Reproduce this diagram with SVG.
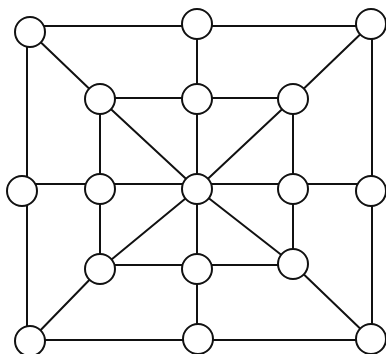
<svg xmlns="http://www.w3.org/2000/svg" width="386" height="354" viewBox="0 0 386 354">
<style>
.e{stroke:#111;stroke-width:2;fill:none;stroke-linecap:round}
.n{fill:#fff;stroke:#111;stroke-width:2}
</style>
<rect width="386" height="354" fill="#fff"/>
<g id="connectors" class="e">
<line x1="30" y1="26" x2="371" y2="26"/>
<line x1="27" y1="32" x2="27" y2="341"/>
<line x1="372" y1="24" x2="372" y2="339"/>
<line x1="22" y1="184" x2="371" y2="184"/>
<line x1="30" y1="340" x2="371" y2="340"/>
<line x1="100" y1="98" x2="293" y2="98"/>
<line x1="100" y1="265" x2="293" y2="265"/>
<line x1="100" y1="99" x2="100" y2="269"/>
<line x1="197" y1="24" x2="197" y2="339"/>
<line x1="293" y1="99" x2="293" y2="264"/>
<line x1="30" y1="32" x2="100" y2="99"/>
<line x1="100" y1="99" x2="197" y2="189"/>
<line x1="371" y1="24" x2="293" y2="99"/>
<line x1="293" y1="99" x2="197" y2="189"/>
<line x1="197" y1="189" x2="100" y2="269"/>
<line x1="100" y1="269" x2="30" y2="341"/>
<line x1="197" y1="189" x2="293" y2="264"/>
<line x1="293" y1="264" x2="371" y2="339"/>
</g>
<g id="n1"><circle class="n" cx="30" cy="32" r="15"/></g>
<g id="n2"><circle class="n" cx="197" cy="24" r="15"/></g>
<g id="n3"><circle class="n" cx="371" cy="24" r="15"/></g>
<g id="n4"><circle class="n" cx="100" cy="99" r="15"/></g>
<g id="n5"><circle class="n" cx="197" cy="99" r="15"/></g>
<g id="n6"><circle class="n" cx="293" cy="99" r="15"/></g>
<g id="n7"><circle class="n" cx="22" cy="191" r="15"/></g>
<g id="n8"><circle class="n" cx="100" cy="189" r="15"/></g>
<g id="n9"><circle class="n" cx="197" cy="189" r="15"/></g>
<g id="n10"><circle class="n" cx="293" cy="189" r="15"/></g>
<g id="n11"><circle class="n" cx="371" cy="191" r="15"/></g>
<g id="n12"><circle class="n" cx="100" cy="269" r="15"/></g>
<g id="n13"><circle class="n" cx="197" cy="269" r="15"/></g>
<g id="n14"><circle class="n" cx="293" cy="264" r="15"/></g>
<g id="n15"><circle class="n" cx="30" cy="341" r="15"/></g>
<g id="n16"><circle class="n" cx="198" cy="339" r="15"/></g>
<g id="n17"><circle class="n" cx="371" cy="339" r="15"/></g>
</svg>
